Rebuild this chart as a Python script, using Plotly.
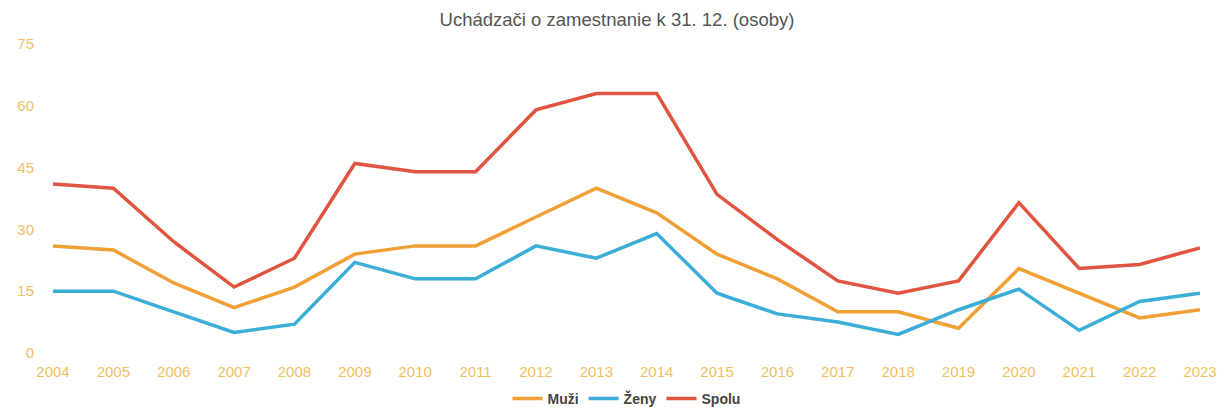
import plotly.graph_objects as go

years = [str(y) for y in range(2004, 2024)]
muzi = [26, 25, 17, 11, 16, 24, 26, 26, 33, 40, 34, 24, 18, 10, 10, 6, 20.5, 14.5, 8.5, 10.5]
zeny = [15, 15, 10, 5, 7, 22, 18, 18, 26, 23, 29, 14.5, 9.5, 7.5, 4.5, 10.5, 15.5, 5.5, 12.5, 14.5]
spolu = [41, 40, 27, 16, 23, 46, 44, 44, 59, 63, 63, 38.5, 27.5, 17.5, 14.5, 17.5, 36.5, 20.5, 21.5, 25.5]
y_ticks = [0, 15, 30, 45, 60, 75]

series = [("Muži", muzi, "#f0a035"), ("Ženy", zeny, "#3aaed6"), ("Spolu", spolu, "#e05440")]

fig = go.Figure()
for name, vals, col in series:
    fig.add_trace(go.Scatter(x=list(range(len(years))), y=vals, name=name, mode="lines",
                             line=dict(color=col, width=3.5)))

fig.update_layout(
    width=1218, height=409,
    paper_bgcolor="white", plot_bgcolor="white",
    margin=dict(l=45, r=26, t=36, b=64),
    font=dict(family="Liberation Sans, Arial, sans-serif"),
    title=dict(text="Uchádzači o zamestnanie k 31. 12. (osoby)", x=0.5, xanchor="center",
               yref="container", y=0.972, yanchor="middle",
               font=dict(size=18.5, color="#555555")),
    xaxis=dict(tickmode="array", tickvals=list(range(len(years))), ticktext=years,
               range=[0, len(years) - 1], showgrid=False, zeroline=False, showline=False,
               tickfont=dict(size=15, color="#f0c060"), ticklabelstandoff=8,
               automargin=False),
    yaxis=dict(tickmode="array", tickvals=y_ticks, range=[0, 75], showgrid=False,
               zeroline=False, showline=False, tickfont=dict(size=15, color="#f0c060"),
               ticklabelstandoff=18, automargin=False),
    legend=dict(orientation="h", x=0.5, xanchor="center", yref="container", y=0.005,
                yanchor="bottom", font=dict(size=14, color="#444444", weight="bold"),
                itemwidth=30, tracegroupgap=0),
)
fig.write_html("out.html")
